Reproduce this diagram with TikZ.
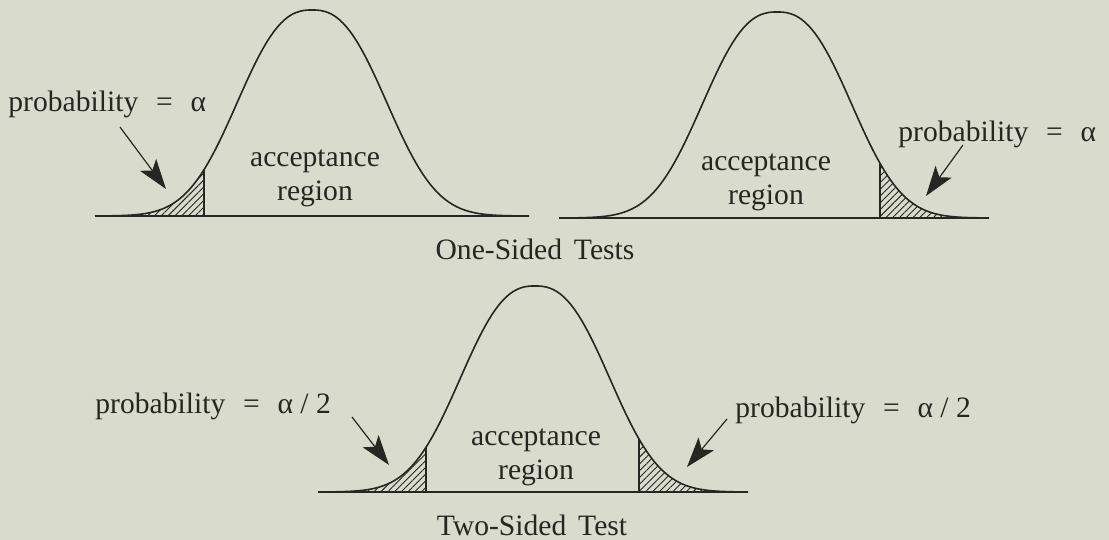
\documentclass[tikz,border=0pt]{standalone}
\usepackage{fontspec}
\setmainfont{Liberation Serif}
\usetikzlibrary{arrows.meta,patterns.meta}
\definecolor{paper}{RGB}{217,220,204}
\definecolor{ink}{RGB}{38,38,34}

\begin{document}
\begin{tikzpicture}[
    x=0.5pt, y=-0.5pt,                      % 1 unit = 1 px of the scan, y runs down
    declare function={bell(\x,\ctr,\bas)=\bas-206*exp(-((abs(\x-\ctr)+0.01)/92)^2.5);},
    curve/.style={ink, line width=0.8pt},
    axis/.style={ink, line width=1.3pt},
    tail/.style={pattern={Lines[angle=45,distance=2.4pt,line width=0.45pt]}, pattern color=ink},
    ptr/.style={ink, line width=0.6pt, -{Stealth[length=15pt,width=10pt,inset=3.5pt]}},
    lbl/.style={font=\fontsize{14.8}{17}\selectfont, text=ink, inner sep=0pt},
    region/.style={lbl, align=center},
  ]

  % ---------- paper ----------
  \fill[paper] (0,0) rectangle (1109,540);
  \useasboundingbox (0,0) rectangle (1109,540);

  % ---------- one-sided, lower tail ----------
  \fill[tail] (95,216) -- plot[domain=95:204,samples=40] (\x,{bell(\x,312,216)}) -- (204,216) -- cycle;
  \draw[curve] plot[domain=95:529,samples=120] (\x,{bell(\x,312,216)});
  \draw[curve] (204,216) -- (204,{bell(204,312,216)});
  \draw[axis] (95,216) -- (529,216);

  % ---------- one-sided, upper tail ----------
  \fill[tail] (880,218) -- plot[domain=880:989,samples=40] (\x,{bell(\x,777,218)}) -- (989,218) -- cycle;
  \draw[curve] plot[domain=559:989,samples=120] (\x,{bell(\x,777,218)});
  \draw[curve] (880,218) -- (880,{bell(880,777,218)});
  \draw[axis] (559,218) -- (989,218);

  % ---------- two-sided ----------
  \fill[tail] (318,492) -- plot[domain=318:426,samples=40] (\x,{bell(\x,535,492)}) -- (426,492) -- cycle;
  \fill[tail] (639,492) -- plot[domain=639:748,samples=40] (\x,{bell(\x,535,492)}) -- (748,492) -- cycle;
  \draw[curve] plot[domain=318:748,samples=120] (\x,{bell(\x,535,492)});
  \draw[curve] (426,492) -- (426,{bell(426,535,492)});
  \draw[curve] (639,492) -- (639,{bell(639,535,492)});
  \draw[axis] (318,492) -- (748,492);

  % ---------- labels ----------
  \node[lbl, anchor=base west] (lbl1) at (8,112) {probability\hspace{0.6em}=\hspace{0.6em}α};
  \node[lbl, anchor=base west] (lbl2) at (898,141) {probability\hspace{0.6em}=\hspace{0.6em}α};
  \node[lbl, anchor=base west] (lbl3) at (95,413) {probability\hspace{0.6em}=\hspace{0.6em}α / 2};
  \node[lbl, anchor=base west] (lbl4) at (735,417) {probability\hspace{0.6em}=\hspace{0.6em}α / 2};

  \node[region] (acc1) at (315,178) {acceptance\\region};
  \node[region] (acc2) at (766,182) {acceptance\\region};
  \node[region] (acc3) at (536,457) {acceptance\\region};

  \node[lbl, anchor=base] (ttl1) at (535,259) {One-Sided\hspace{0.4em}Tests};
  \node[lbl, anchor=base] (ttl2) at (532,535) {Two-Sided\hspace{0.4em}Test};

  % ---------- pointers ----------
  \coordinate (ptr1) at (120,127);  \coordinate (tip1) at (166,189);
  \coordinate (ptr2) at (963,145);  \coordinate (tip2) at (926,196);
  \coordinate (ptr3) at (352,417);  \coordinate (tip3) at (389,465);
  \coordinate (ptr4) at (727,419);  \coordinate (tip4) at (687,467);
  \foreach \i in {1,...,4}
    \draw[ptr] (ptr\i) -- (tip\i);

\end{tikzpicture}
\end{document}
